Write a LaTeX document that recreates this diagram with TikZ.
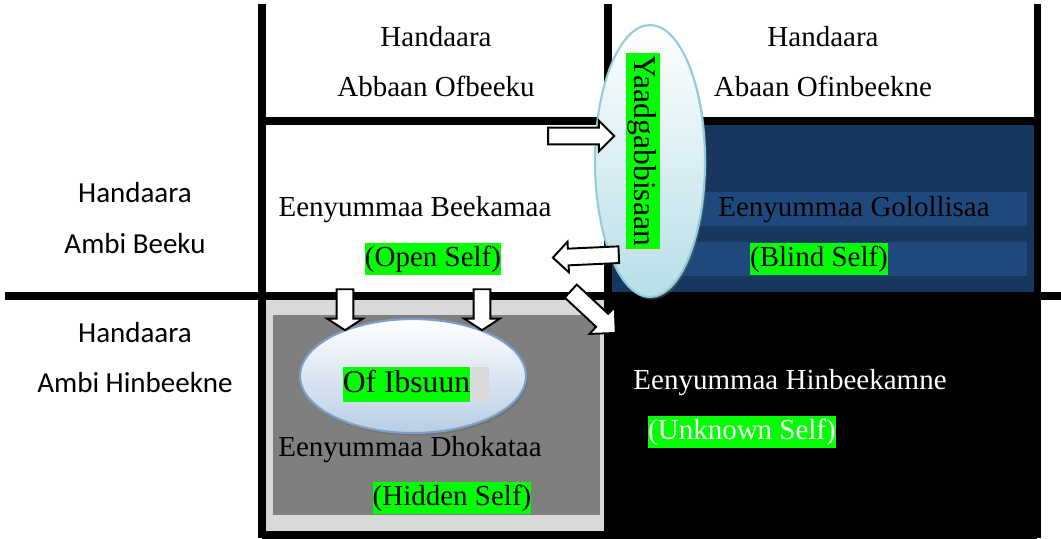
\documentclass[tikz,border=0pt]{standalone}
\usepackage{fontspec}
\setmainfont{Liberation Serif}
\newfontfamily\sidefont{Carlito}
\usetikzlibrary{shapes.arrows,shapes.geometric,shadows}
\definecolor{navydark}{HTML}{17375E}
\definecolor{navystripe}{HTML}{1F497D}
\definecolor{panelgray}{HTML}{D9D9D9}
\definecolor{hiddengray}{HTML}{7F7F7F}
\definecolor{hlgreen}{HTML}{00FF00}
\definecolor{aquaedge}{HTML}{93CDDD}
\definecolor{aquafill}{HTML}{B7DEE8}
\definecolor{steeledge}{HTML}{7F9FC8}
\definecolor{steelfill}{HTML}{B9CDE5}

\begin{document}
\begin{tikzpicture}[x=0.02cm, y=-0.02cm,
    grid/.style={line width=4pt},
    txt/.style={font=\fontsize{16.5}{20}\selectfont, inner sep=0pt},
    side/.style={font=\sidefont\fontsize{16.5}{20}\selectfont, inner sep=0pt},
    hl/.style={txt, fill=hlgreen, text height=13pt, text depth=4.5pt, inner ysep=0.5pt},
    bighl/.style={hl, font=\fontsize{18}{21}\selectfont, text height=14pt, text depth=4.5pt, inner ysep=0.5pt},
    blockarrow/.style={single arrow, draw=black, fill=white, line width=1.1pt, inner xsep=0pt, single arrow head indent=0pt},
    bubble/.style={ellipse, line width=1.2pt, drop shadow={shadow xshift=1pt, shadow yshift=-1.5pt, fill=black!60, opacity=0.5}}
]
    \useasboundingbox (0,0) rectangle (1061,538);

    % Quadrant fills
    \fill[navydark] (608,121) rectangle (1037,296);
    \fill[navystripe] (680,192) rectangle (1027,226);
    \fill[navystripe] (680,242) rectangle (1027,276);
    \fill[black] (608,296) rectangle (1037,537);
    \fill[panelgray] (266,299) rectangle (606,532);
    \fill[hiddengray] (273,315) rectangle (600,515);

    % Grid lines
    \draw[grid] (262,4) -- (262,538);
    \draw[grid] (608,4) -- (608,538);
    \draw[grid] (1037,4) -- (1037,538);
    \draw[grid] (262,121) -- (1037,121);
    \draw[grid] (5,296) -- (1061,296);
    \draw[grid] (262,535) -- (1037,535);

    % Headings
    \node[txt] (topl1) at (436,37) {Handaara};
    \node[txt] (topl2) at (436,86) {Abbaan Ofbeeku};
    \node[txt] (topr1) at (823,37) {Handaara};
    \node[txt] (topr2) at (823,86) {Abaan Ofinbeekne};
    \node[side] (sideu1) at (135,193) {Handaara};
    \node[side] (sideu2) at (135,244) {Ambi Beeku};
    \node[side] (sided1) at (135,333) {Handaara};
    \node[side] (sided2) at (135,383) {Ambi Hinbeekne};

    % Bubbles
    \node[bubble, draw=aquaedge, top color=white, bottom color=aquafill,
          minimum width=2.2cm, minimum height=5.44cm] (feedback) at (650,161) {};
    \node[bubble, draw=steeledge, top color=white, bottom color=steelfill,
          minimum width=4.52cm, minimum height=2.28cm] (disclose) at (413,376) {};
    \fill[panelgray] (625,248) rectangle (661,252);
    \node[bighl, rotate=-90, inner xsep=1.5pt] (yaad) at (643,151) {Yaadgabbisaan};
    \fill[panelgray] (471,367) rectangle (489,402);
    \node[bighl] (ofib) at (406.5,384.5) {Of Ibsuun};

    % Block arrows
    \node[blockarrow, inner ysep=4.2pt, single arrow head extend=4pt,
          minimum height=1.32cm] (arrin) at (577,136) {};
    \node[blockarrow, inner ysep=4.2pt, single arrow head extend=4pt,
          minimum height=1.32cm, rotate=182.6] (arrout) at (590,256) {};
    \node[blockarrow, inner ysep=4.2pt, single arrow head extend=5.4pt,
          single arrow tip angle=114, minimum height=0.82cm, rotate=-90] (arrdl) at (345,307) {};
    \node[blockarrow, inner ysep=4.2pt, single arrow head extend=5.4pt,
          single arrow tip angle=114, minimum height=0.82cm, rotate=-90] (arrdr) at (482,307) {};
    \node[blockarrow, inner ysep=4.5pt, single arrow head extend=5.5pt,
          minimum height=1.23cm, rotate=-43] (arrdiag) at (590,309) {};

    % Quadrant labels
    \node[txt] (open) at (415,210) {Eenyummaa Beekamaa};
    \node[hl] (openen) at (433,259) {(Open Self)};
    \node[txt] (blind) at (854,210) {Eenyummaa Golollisaa};
    \node[hl] (blinden) at (819,259) {(Blind Self)};
    \node[txt, text=white] (unknown) at (790,383) {Eenyummaa Hinbeekamne};
    \node[hl, text=white] (unknownen) at (742,432) {(Unknown Self)};
    \node[txt] (hidden) at (410,450) {Eenyummaa Dhokataa};
    \node[hl] (hiddenen) at (452,498) {(Hidden Self)};

\end{tikzpicture}
\end{document}
